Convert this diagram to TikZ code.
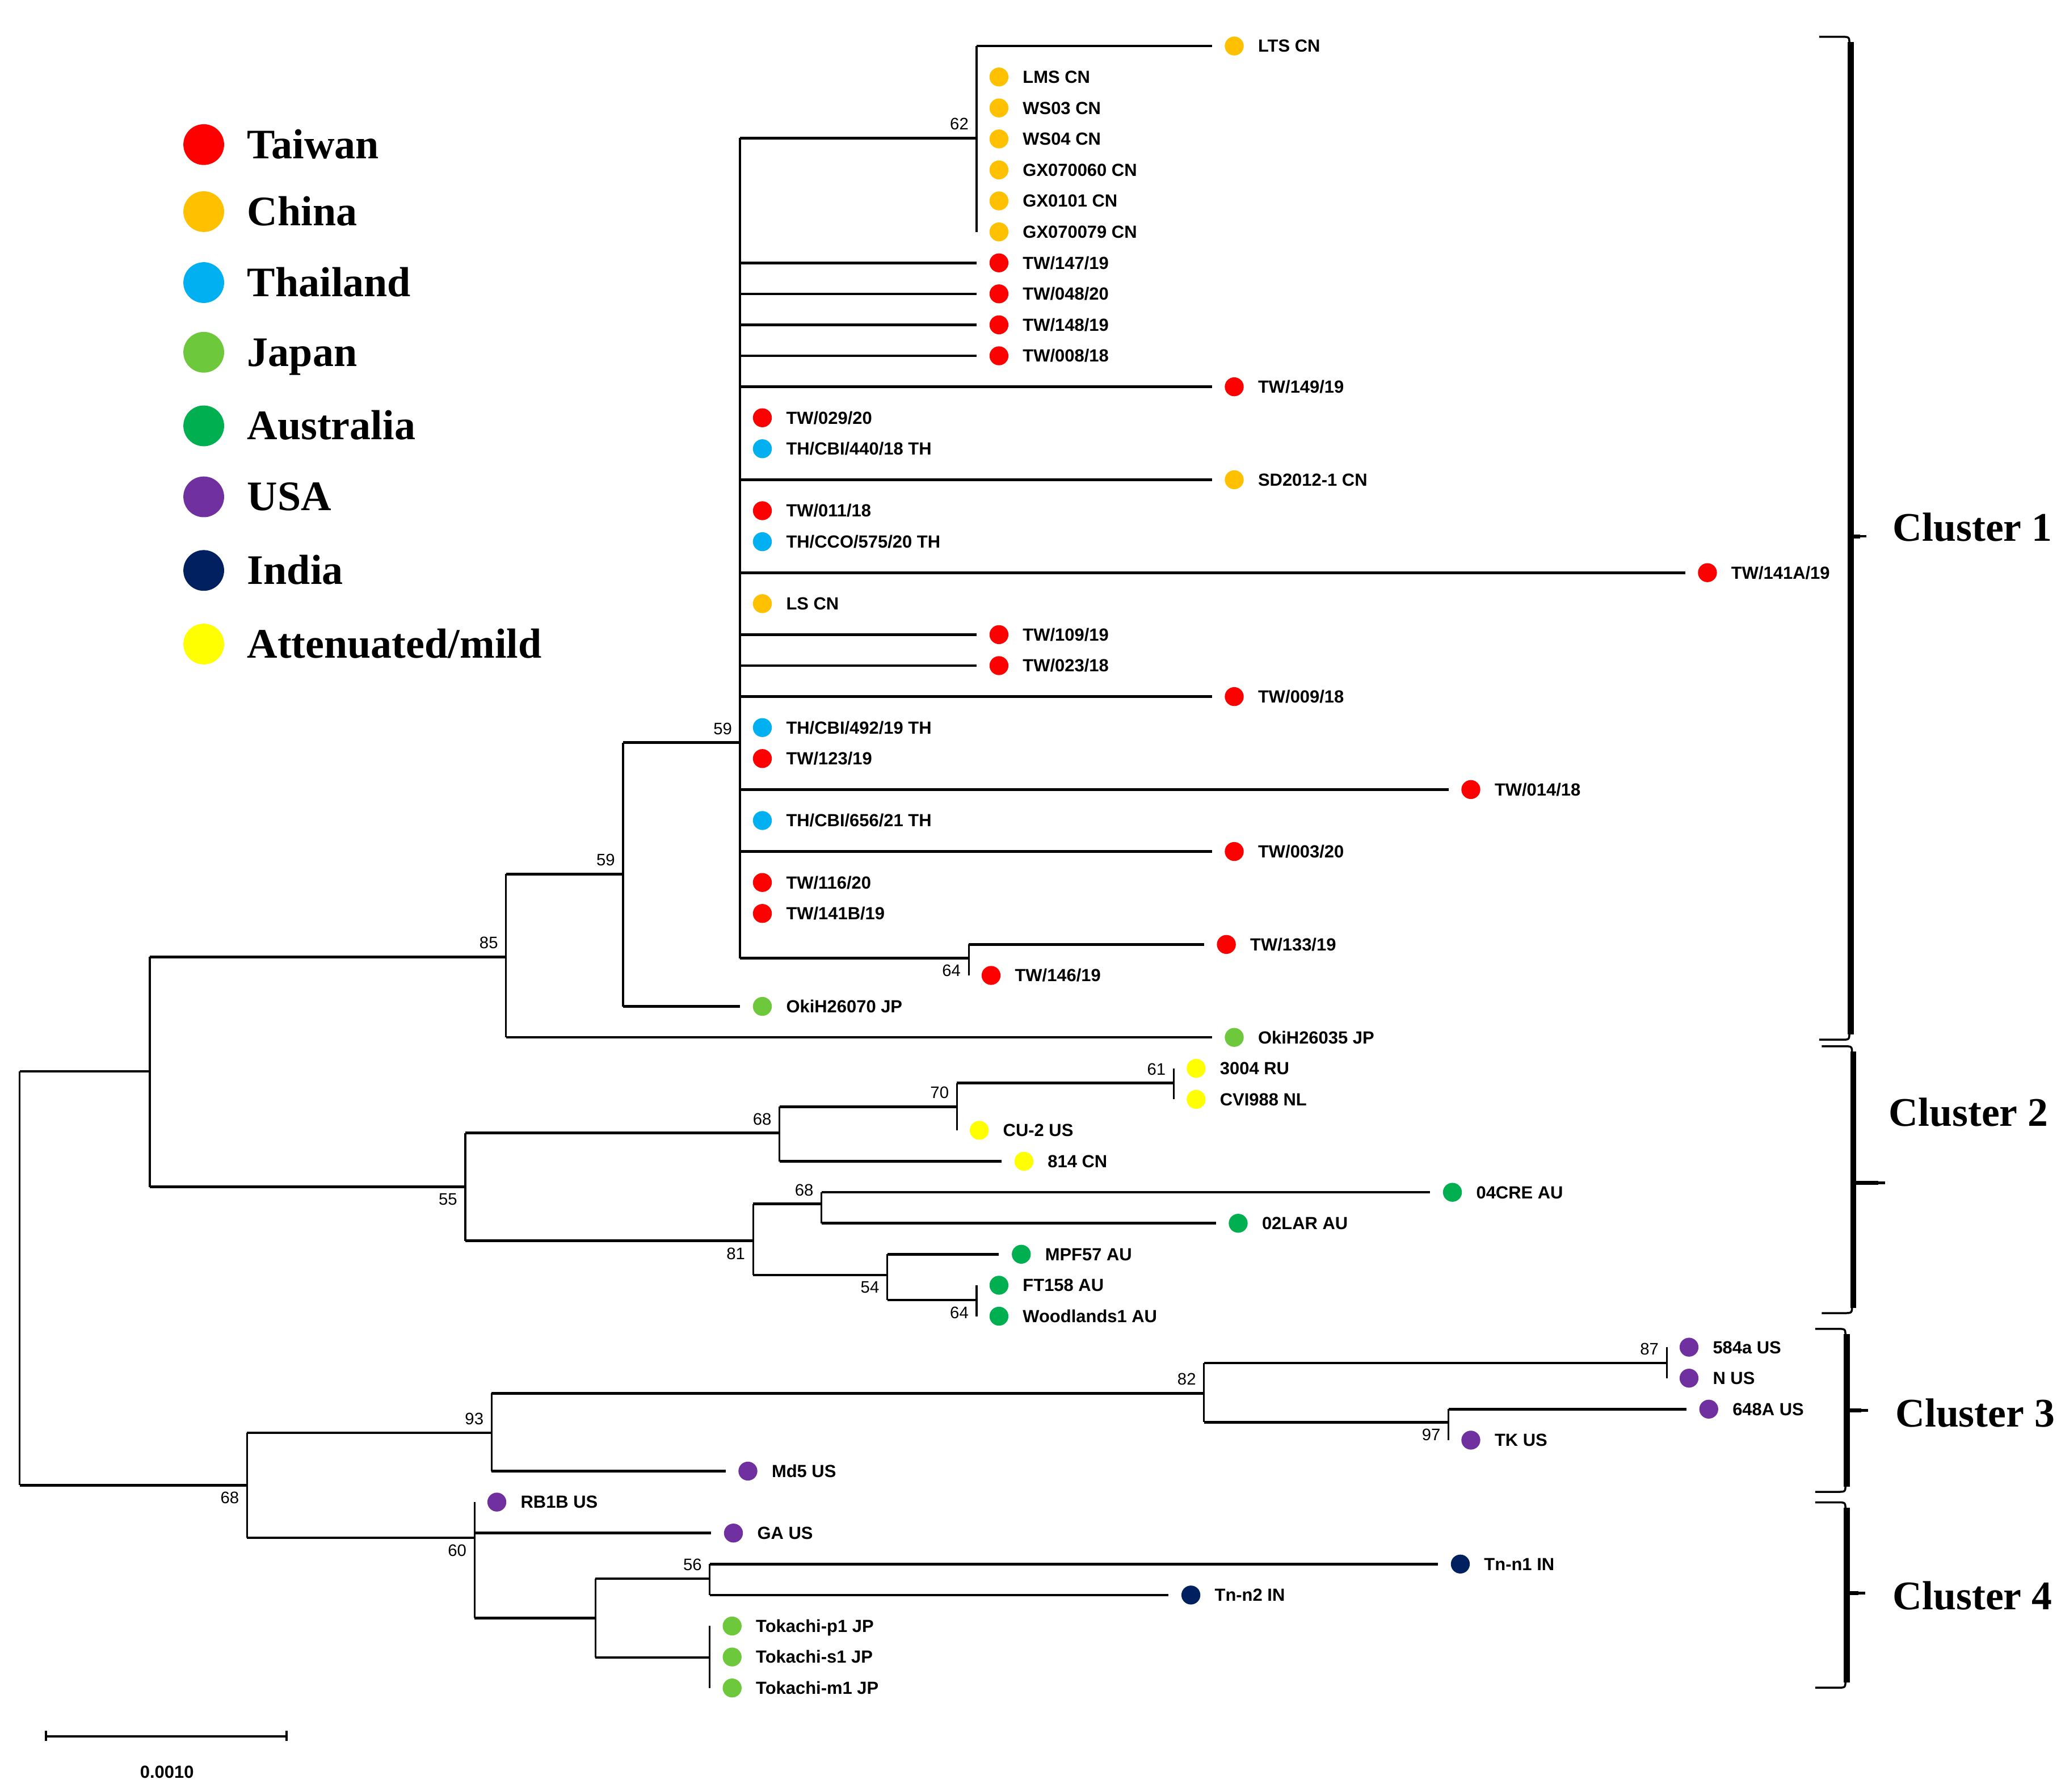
\documentclass[tikz,border=0pt]{standalone}
\usepackage{fontspec}
\setmainfont{Liberation Serif}
\newfontfamily\arialfont{Liberation Sans}
\definecolor{tw}{HTML}{FF0000}
\definecolor{cn}{HTML}{FFC000}
\definecolor{th}{HTML}{00B0F0}
\definecolor{jp}{HTML}{6DC83C}
\definecolor{au}{HTML}{00B050}
\definecolor{us}{HTML}{7030A0}
\definecolor{ind}{HTML}{002060}
\definecolor{att}{HTML}{FFFF00}
\begin{document}
\begin{tikzpicture}[x=0.5mm,y=-0.5mm,
    hbr/.style={line width=1mm},
    vbr/.style={line width=0.7mm},
    dot/.style={circle,inner sep=0pt,minimum size=7.2mm},
    lab/.style={anchor=base west,inner sep=0pt,font=\arialfont\bfseries\fontsize{19}{21}\selectfont},
    boot/.style={inner sep=0pt,font=\arialfont\fontsize{18}{20}\selectfont},
    key/.style={anchor=base west,inner sep=0pt,font=\bfseries\fontsize{45.5}{50}\selectfont},
    clu/.style={anchor=west,inner sep=0pt,font=\bfseries\fontsize{44}{48}\selectfont},
    bthin/.style={line width=0.75mm},
    bthick/.style={line width=2.2mm}]
    \useasboundingbox (0,0) rectangle (1568,1363);
    \def\lf(#1,#2)#3#4#5{
      \coordinate (#5) at (#1,{35+23.57*#2});
      \node[dot,fill=#3] (#5d) at ({#1+17},{35+23.57*#2}) {};
      \node[lab] (#5t) at ({#1+35},{39.7+23.57*#2}) {#4};
    }
    \def\brk(#1,#2,#3,#4,#5){
      \draw[bthin] ({#1-23},#2) -- ({#1-6},#2) .. controls (#1,#2) .. (#1,{#2+6})
        -- (#1,{#4-6}) .. controls (#1,#4) .. ({#1-6},#4) -- ({#1-23},#4);
      \draw[bthick] ({#1+1},{#2+4}) -- ({#1+1},{#4-4});
      \draw[line width=1.5mm] (#1,#3) -- ({#5-3},#3);
      \draw[line width=1mm] (#1,#3) -- ({#5+2},#3);
    }
    % leaves
    \lf(922,0){cn}{LTS CN}{lts}
    \lf(743,1){cn}{LMS CN}{lms}
    \lf(743,2){cn}{WS03 CN}{wsa}
    \lf(743,3){cn}{WS04 CN}{wsb}
    \lf(743,4){cn}{GX070060 CN}{gxa}
    \lf(743,5){cn}{GX0101 CN}{gxb}
    \lf(743,6){cn}{GX070079 CN}{gxc}
    \lf(743,7){tw}{TW/147/19}{tw147}
    \lf(743,8){tw}{TW/048/20}{tw048}
    \lf(743,9){tw}{TW/148/19}{tw148}
    \lf(743,10){tw}{TW/008/18}{tw008}
    \lf(922,11){tw}{TW/149/19}{tw149}
    \lf(563,12){tw}{TW/029/20}{tw029}
    \lf(563,13){th}{TH/CBI/440/18 TH}{th440}
    \lf(922,14){cn}{SD2012-1 CN}{sd}
    \lf(563,15){tw}{TW/011/18}{tw011}
    \lf(563,16){th}{TH/CCO/575/20 TH}{th575}
    \lf(1282,17){tw}{TW/141A/19}{tw141a}
    \lf(563,18){cn}{LS CN}{ls}
    \lf(743,19){tw}{TW/109/19}{tw109}
    \lf(743,20){tw}{TW/023/18}{tw023}
    \lf(922,21){tw}{TW/009/18}{tw009}
    \lf(563,22){th}{TH/CBI/492/19 TH}{th492}
    \lf(563,23){tw}{TW/123/19}{tw123}
    \lf(1102,24){tw}{TW/014/18}{tw014}
    \lf(563,25){th}{TH/CBI/656/21 TH}{th656}
    \lf(922,26){tw}{TW/003/20}{tw003}
    \lf(563,27){tw}{TW/116/20}{tw116}
    \lf(563,28){tw}{TW/141B/19}{tw141b}
    \lf(916,29){tw}{TW/133/19}{tw133}
    \lf(737,30){tw}{TW/146/19}{tw146}
    \lf(563,31){jp}{OkiH26070 JP}{oki70}
    \lf(922,32){jp}{OkiH26035 JP}{oki35}
    \lf(893,33){att}{3004 RU}{ru}
    \lf(893,34){att}{CVI988 NL}{cvi}
    \lf(728,35){att}{CU-2 US}{cu}
    \lf(762,36){att}{814 CN}{cn814}
    \lf(1088,37){au}{04CRE AU}{cre}
    \lf(925,38){au}{02LAR AU}{lar}
    \lf(760,39){au}{MPF57 AU}{mpf}
    \lf(743,40){au}{FT158 AU}{ft}
    \lf(743,41){au}{Woodlands1 AU}{wood}
    \lf(1268,42){us}{584a US}{us584}
    \lf(1268,43){us}{N US}{nus}
    \lf(1283,44){us}{648A US}{us648}
    \lf(1102,45){us}{TK US}{tk}
    \lf(552,46){us}{Md5 US}{md}
    \lf(361,47){us}{RB1B US}{rb}
    \lf(541,48){us}{GA US}{ga}
    \lf(1094,49){ind}{Tn-n1 IN}{tna}
    \lf(889,50){ind}{Tn-n2 IN}{tnb}
    \lf(540,51){jp}{Tokachi-p1 JP}{tkp}
    \lf(540,52){jp}{Tokachi-s1 JP}{tks}
    \lf(540,53){jp}{Tokachi-m1 JP}{tkm}
    % inner nodes
    \coordinate (nR) at (15,972);
    \coordinate (nA) at (114,815);
    \coordinate (nB) at (385,728);
    \coordinate (nC) at (474,665);
    \coordinate (nD) at (563,565);
    \coordinate (nE) at (743,105);
    \coordinate (nF) at (737,729);
    \coordinate (nS) at (354,903);
    \coordinate (nT) at (593,862);
    \coordinate (nU) at (728,842);
    \coordinate (nV) at (893,824);
    \coordinate (nW) at (573,944);
    \coordinate (nX) at (625,916);
    \coordinate (nY) at (675,970);
    \coordinate (nZ) at (743,989);
    \coordinate (nK) at (188,1130);
    \coordinate (nL) at (374,1090);
    \coordinate (nM) at (916,1060);
    \coordinate (nN) at (1268,1037);
    \coordinate (nO) at (1102,1082);
    \coordinate (nP) at (361,1170);
    \coordinate (nQ) at (453,1231);
    \coordinate (nG) at (540,1201);
    \coordinate (nH) at (540,1261);
    % branches
    \foreach \p/\a/\b in {nR/nA/nK, nA/nB/nS, nB/nC/oki35, nC/nD/oki70, nD/nE/nF,
        nE/lts/gxc, nF/tw133/tw146, nS/nT/nW, nT/nU/cn814, nU/nV/cu, nV/ru/cvi,
        nW/nX/nY, nX/cre/lar, nY/mpf/nZ, nZ/ft/wood, nK/nL/nP, nL/nM/md,
        nM/nN/nO, nN/us584/nus, nO/us648/tk, nP/rb/nQ, nQ/nG/nH, nG/tna/tnb, nH/tkp/tkm}
      \draw[vbr] (\p |- \a) -- (\p |- \b);
    \foreach \p/\c in {nR/nA, nR/nK, nA/nB, nA/nS, nB/nC, nB/oki35, nC/nD, nC/oki70,
        nD/nE, nD/tw147, nD/tw048, nD/tw148, nD/tw008, nD/tw149, nD/sd, nD/tw141a,
        nD/tw109, nD/tw023, nD/tw009, nD/tw014, nD/tw003, nD/nF, nE/lts, nF/tw133,
        nS/nT, nS/nW, nT/nU, nT/cn814, nU/nV, nW/nX, nW/nY, nX/cre, nX/lar,
        nY/mpf, nY/nZ, nK/nL, nK/nP, nL/nM, nL/md, nM/nN, nM/nO, nO/us648,
        nP/ga, nP/nQ, nQ/nG, nQ/nH, nG/tna, nG/tnb}
      \draw[hbr] (\p |- \c) -- (\c);
    % bootstrap values
    \foreach \n/\v in {nE/62, nD/59, nC/59, nB/85, nT/68, nU/70, nV/61, nX/68,
        nL/93, nM/82, nN/87, nG/56}
      \node[boot,anchor=south east] (b\n) at ([shift={(-6,-6)}]\n) {\v};
    \foreach \n/\v in {nF/64, nS/55, nW/81, nY/54, nZ/64, nO/97, nK/68, nP/60}
      \node[boot,anchor=north east] (b\n) at ([shift={(-6,5)}]\n) {\v};
    % legend
    \foreach \cl/\yy/\txt in {tw/110/Taiwan, cn/161/China, th/215/Thailand, jp/268/Japan,
        au/324/Australia, us/378/USA, ind/434/India, att/490/{Attenuated/mild}} {
      \node[dot,minimum size=15.5mm,fill=\cl] (k\cl) at (155,\yy) {};
      \node[key] (t\cl) at (188,{\yy+10.5}) {\txt};
    }
    % clusters
    \brk(1407,28,408,791,1418)
    \brk(1409,796,900,999,1432)
    \brk(1404,1011,1073,1135,1419)
    \brk(1404,1143,1212,1284,1417)
    \node[clu] (c1) at (1440,401) {Cluster 1};
    \node[clu] (c2) at (1437,846) {Cluster 2};
    \node[clu] (c3) at (1442,1075) {Cluster 3};
    \node[clu] (c4) at (1440,1214) {Cluster 4};
    % scale bar
    \coordinate (sa) at (35,1321);
    \coordinate (sb) at (218,1321);
    \draw[hbr] (sa) -- (sb);
    \draw[vbr] ([yshift=-5]sa) -- ([yshift=6]sa);
    \draw[vbr] ([yshift=-5]sb) -- ([yshift=6]sb);
    \node[boot,font=\arialfont\bfseries\fontsize{19}{21}\selectfont] (sl) at (127,1348) {0.0010};
  \end{tikzpicture}
\end{document}
